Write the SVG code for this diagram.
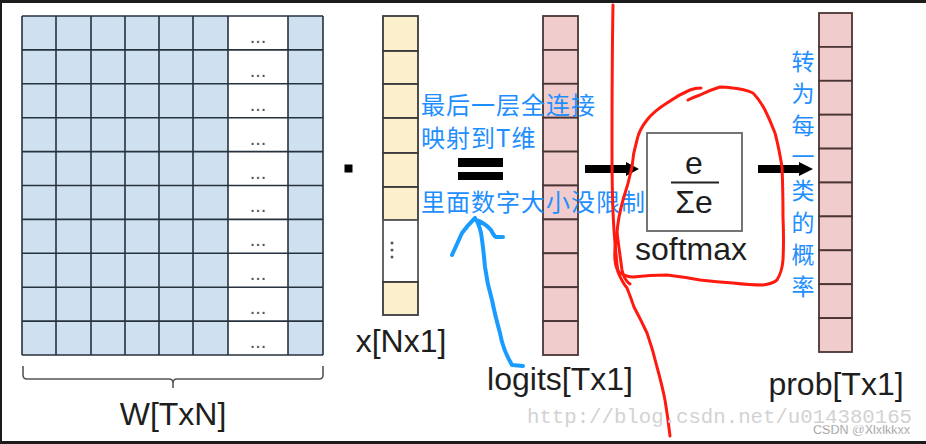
<svg xmlns="http://www.w3.org/2000/svg" width="926" height="444" viewBox="0 0 926 444">
<style>
.lbl{font-family:"Liberation Sans",Arial,sans-serif;font-size:32px;fill:#1e1e1e;text-anchor:middle}
.cn{font-family:"Noto Sans CJK SC","Liberation Sans",sans-serif;font-size:24px;fill:#1f8fff}
.cnv{font-family:"Noto Sans CJK SC","Liberation Sans",sans-serif;font-size:23px;fill:#1f8fff;text-anchor:middle}
.dots{font-family:"Liberation Sans",Arial,sans-serif;font-size:20px;fill:#555;text-anchor:middle}
.vy{fill:#fcefcb;stroke:#3a3a3a;stroke-width:1.8}
.vp{fill:#f1cccc;stroke:#4a3535;stroke-width:1.8}
.red{fill:none;stroke:#ff1a10;stroke-width:3;stroke-linecap:round;stroke-linejoin:round}
.blue{fill:none;stroke:#1a9bff;stroke-width:4;stroke-linecap:round;stroke-linejoin:round}
</style>
<rect x="0" y="0" width="926" height="444" fill="#1c1c1c"/>
<rect x="2" y="3" width="924" height="438" fill="#ffffff"/>

<g id="W">
<rect x="22" y="16" width="301" height="339" fill="#cfe0f1"/>
<rect x="228" y="16" width="60" height="339" fill="#ffffff"/>
<g stroke="#26323d" stroke-width="1.6">
<line x1="22" y1="16" x2="22" y2="355"/><line x1="56" y1="16" x2="56" y2="355"/><line x1="91" y1="16" x2="91" y2="355"/><line x1="125" y1="16" x2="125" y2="355"/><line x1="159" y1="16" x2="159" y2="355"/><line x1="193" y1="16" x2="193" y2="355"/><line x1="228" y1="16" x2="228" y2="355"/><line x1="288" y1="16" x2="288" y2="355"/><line x1="323" y1="16" x2="323" y2="355"/>
<line x1="22" y1="16" x2="323" y2="16"/><line x1="22" y1="49.9" x2="323" y2="49.9"/><line x1="22" y1="83.8" x2="323" y2="83.8"/><line x1="22" y1="117.7" x2="323" y2="117.7"/><line x1="22" y1="151.6" x2="323" y2="151.6"/><line x1="22" y1="185.5" x2="323" y2="185.5"/><line x1="22" y1="219.4" x2="323" y2="219.4"/><line x1="22" y1="253.3" x2="323" y2="253.3"/><line x1="22" y1="287.2" x2="323" y2="287.2"/><line x1="22" y1="321.1" x2="323" y2="321.1"/><line x1="22" y1="355" x2="323" y2="355"/>
</g>
<text class="dots" x="258" y="43">...</text><text class="dots" x="258" y="77">...</text><text class="dots" x="258" y="111">...</text><text class="dots" x="258" y="145">...</text><text class="dots" x="258" y="179">...</text><text class="dots" x="258" y="212">...</text><text class="dots" x="258" y="246">...</text><text class="dots" x="258" y="280">...</text><text class="dots" x="258" y="314">...</text><text class="dots" x="258" y="348">...</text>
<path d="M23,366 V375 Q23,379 27,379 H169 Q173,379 173,383 V388 M173,383 Q173,379 177,379 H319 Q323,379 323,375 V366" fill="none" stroke="#555" stroke-width="1.6"/>
<text class="lbl" x="173" y="425">W[TxN]</text>
</g>

<g id="dot"><rect x="344.5" y="164.5" width="8" height="8" fill="#000"/></g>

<g id="x">
<rect class="vy" x="383" y="16" width="35" height="35"/>
<rect class="vy" x="383" y="51" width="35" height="33"/>
<rect class="vy" x="383" y="84" width="35" height="34"/>
<rect class="vy" x="383" y="118" width="35" height="35"/>
<rect class="vy" x="383" y="153" width="35" height="34"/>
<rect class="vy" x="383" y="187" width="35" height="33"/>
<rect x="383" y="220" width="35" height="62" fill="#fff" stroke="#555" stroke-width="1.8"/>
<rect class="vy" x="383" y="282" width="35" height="33"/>
<circle cx="392" cy="243" r="1.5" fill="#555"/><circle cx="392" cy="250" r="1.5" fill="#555"/><circle cx="392" cy="257" r="1.5" fill="#555"/>
<text class="lbl" x="401" y="352">x[Nx1]</text>
</g>

<g id="equals"><rect x="458" y="158" width="45" height="9" fill="#000"/><rect x="458" y="172" width="45" height="8" fill="#000"/></g>

<g id="logits">
<rect class="vp" x="543" y="16" width="35" height="33.9"/><rect class="vp" x="543" y="49.9" width="35" height="33.9"/><rect class="vp" x="543" y="83.8" width="35" height="33.9"/><rect class="vp" x="543" y="117.7" width="35" height="33.9"/><rect class="vp" x="543" y="151.6" width="35" height="33.9"/><rect class="vp" x="543" y="185.5" width="35" height="33.9"/><rect class="vp" x="543" y="219.4" width="35" height="33.9"/><rect class="vp" x="543" y="253.3" width="35" height="33.9"/><rect class="vp" x="543" y="287.2" width="35" height="33.9"/><rect class="vp" x="543" y="321.1" width="35" height="33.9"/>
<text class="lbl" x="560" y="390">logits[Tx1]</text>
</g>

<g id="softmax">
<rect x="647" y="133" width="95" height="98" fill="#fff" stroke="#666" stroke-width="1.8"/>
<text class="lbl" x="694" y="174" font-size="31">e</text>
<line x1="671" y1="182.5" x2="719" y2="182.5" stroke="#222" stroke-width="2"/>
<text class="lbl" x="694" y="213" font-size="30">Σe</text>
<text class="lbl" x="691" y="260">softmax</text>
</g>

<g id="prob">
<rect class="vp" x="819" y="13" width="33" height="33.9"/><rect class="vp" x="819" y="46.9" width="33" height="33.9"/><rect class="vp" x="819" y="80.8" width="33" height="33.9"/><rect class="vp" x="819" y="114.7" width="33" height="33.9"/><rect class="vp" x="819" y="148.6" width="33" height="33.9"/><rect class="vp" x="819" y="182.5" width="33" height="33.9"/><rect class="vp" x="819" y="216.4" width="33" height="33.9"/><rect class="vp" x="819" y="250.3" width="33" height="33.9"/><rect class="vp" x="819" y="284.2" width="33" height="33.9"/><rect class="vp" x="819" y="318.1" width="33" height="33.9"/>
<text class="lbl" x="836" y="395">prob[Tx1]</text>
</g>

<g id="connectors">
<path d="M585,165 H626 V162 L639,169 L626,176 V173 H585 Z" fill="#000"/>
<path d="M758,165 H799 V162 L813,169 L799,176 V173 H758 Z" fill="#000"/>
</g>

<g id="annotations">
<text class="cn" x="421" y="114" letter-spacing="1">最后一层全连接</text>
<text class="cn" x="421" y="147" letter-spacing="1">映射到T维</text>
<text class="cn" x="421" y="211" letter-spacing="1">里面数字大小没限制</text>
<text class="cnv" x="803" y="70">转</text>
<text class="cnv" x="803" y="102">为</text>
<text class="cnv" x="803" y="134">每</text>
<text class="cnv" x="803" y="165">一</text>
<text class="cnv" x="803" y="199">类</text>
<text class="cnv" x="803" y="231">的</text>
<text class="cnv" x="803" y="263">概</text>
<text class="cnv" x="803" y="295">率</text>
<path class="blue" d="M523,366 L512,365 Q503,350 500,333 Q495,315 492,300 Q487,283 485,267 Q483,245 481,233 Q479,224 475,218 M475,218 Q468,225 462,233 Q457,244 452,255 M476,220 Q485,223 491,230 Q494,236 496,237 L503,237"/>
<path class="red" d="M613,5 Q612,60 612,150 Q612,200 614,230 Q616,258 618,272 Q622,282 627,288 Q631,298 634,307 Q641,320 647,333 Q653,350 657,367 Q662,385 665,400 Q668,418 670,436"/>
<path class="red" d="M701,88 Q695,88 690,90 Q678,95 667,103 Q654,111 647,120 Q639,130 637,140 Q633,153 632,167 Q628,185 623,200 Q618,218 617,233 Q614,250 615,260 Q616,270 620,273 Q627,277 633,277 Q650,275 667,275 Q684,277 700,280 Q717,282 733,283 Q750,285 763,285 Q772,284 777,280 Q782,272 783,260 Q784,240 783,217 Q783,190 782,167 Q779,148 775,133 Q770,120 765,110 Q759,99 753,93 Q744,89 733,88 Q726,87 720,87 Q710,90 700,95 Q694,97 688,100"/>
<path class="red" d="M617,233 Q620,255 622,270 Q624,280 630,284"/>
</g>

<g id="watermarks">
<text x="527" y="423" font-family="Liberation Mono,'Courier New',monospace" font-size="20" fill="#d2d2d2" textLength="385" lengthAdjust="spacingAndGlyphs">http://blog.csdn.net/u014380165</text>
<text x="813" y="434" font-family="Liberation Sans,Arial,sans-serif" font-size="12.5" fill="#666" stroke="#fff" stroke-width="0.4" textLength="97" lengthAdjust="spacingAndGlyphs">CSDN @Xlxlkkxx</text>
</g>
</svg>
